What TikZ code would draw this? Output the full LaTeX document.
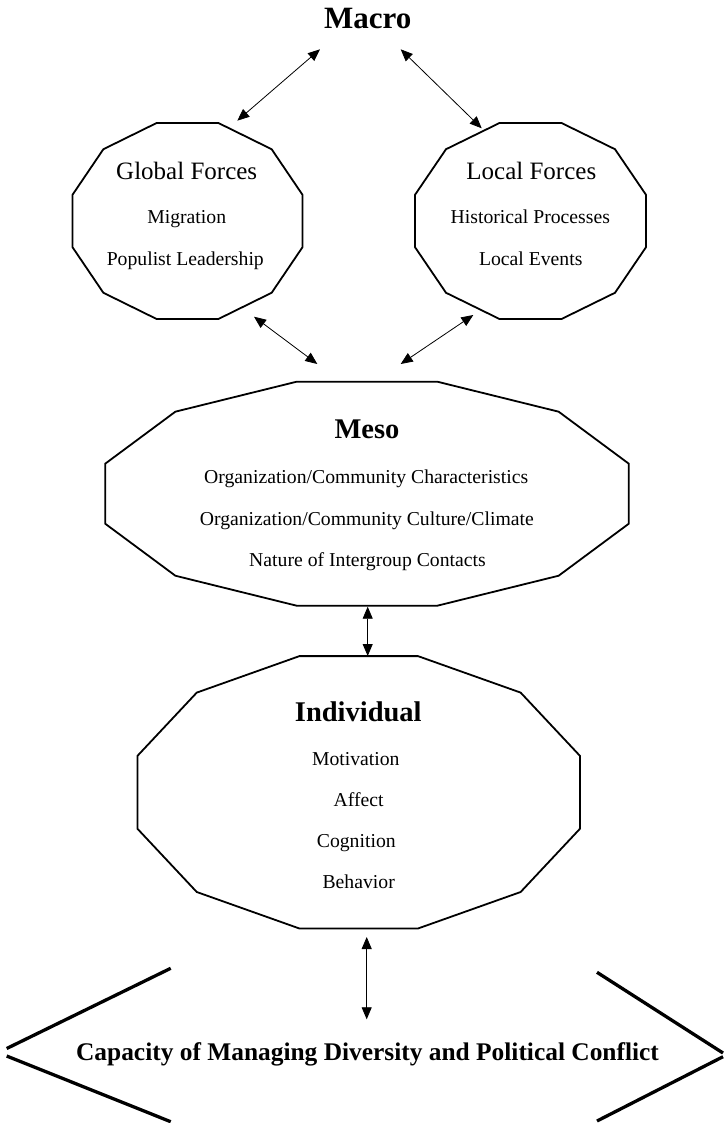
\documentclass[tikz,border=0pt]{standalone}
\usepackage{fontspec}
\setmainfont{Liberation Serif}
\usetikzlibrary{arrows.meta}
\tikzset{
  polyline/.style={line width=1.8pt, line join=miter},
  biarrow/.style={line width=0.8pt, {Triangle[length=12pt,width=10pt]}-{Triangle[length=12pt,width=10pt]}},
  bracketline/.style={line width=3.3pt},
  txt/.style={anchor=base, inner sep=0pt},
  bigtitle/.style={txt, font=\fontsize{31}{31}\selectfont\bfseries},
  leveltitle/.style={txt, font=\fontsize{28.5}{28.5}\selectfont\bfseries},
  forcetitle/.style={txt, font=\fontsize{25}{25}\selectfont},
  item/.style={txt, font=\fontsize{19.7}{19.7}\selectfont},
  captext/.style={txt, font=\fontsize{25.4}{25.4}\selectfont\bfseries}
}
\newcommand{\dodecagon}[3]{%
  \draw[polyline, shift={(#1)}] (15:#2 and #3)
    \foreach \a in {45,75,...,345}{ -- (\a:#2 and #3)} -- cycle;}
\begin{document}
\begin{tikzpicture}[x=1pt, y=-1pt]
\useasboundingbox (0,0) rectangle (723,1123);
% centres
\coordinate (gc) at (187.5,221);
\coordinate (lc) at (530.5,221);
\coordinate (mc) at (367,493.7);
\coordinate (ic) at (358.7,792.3);
% shapes
\dodecagon{gc}{119}{101.5}
\dodecagon{lc}{119.5}{101.5}
\dodecagon{mc}{271}{116}
\dodecagon{ic}{229}{141}
% texts
\node[bigtitle] (macro) at (367.8,28.3) {Macro};
\node[forcetitle] (globalt) at (186.7,180) {Global Forces};
\node[item] (migr) at (186.7,224) {Migration};
\node[item] (popul) at (185.3,265.7) {Populist Leadership};
\node[forcetitle] (localt) at (531.3,180) {Local Forces};
\node[item] (hist) at (530.3,224) {Historical Processes};
\node[item] (levents) at (530.7,265.7) {Local Events};
\node[leveltitle] (meso) at (367,438.3) {Meso};
\node[item] (orgchar) at (366.2,483.3) {Organization/Community Characteristics};
\node[item] (orgcult) at (366.8,525) {Organization/Community Culture/Climate};
\node[item] (nature) at (367.5,566) {Nature of Intergroup Contacts};
\node[leveltitle] (indiv) at (358.3,721.7) {Individual};
\node[item] (motiv) at (355.8,765.7) {Motivation};
\node[item] (affect) at (358.7,806.7) {Affect};
\node[item] (cogn) at (356.3,847.7) {Cognition};
\node[item] (behav) at (358.7,888.3) {Behavior};
\node[captext] (cap) at (367.5,1060) {Capacity of Managing Diversity and Political Conflict};
% arrow end points
\coordinate (a1) at (320,49.3);   \coordinate (a2) at (237.3,120.7);
\coordinate (a3) at (400.7,49.3); \coordinate (a4) at (481.7,128.3);
\coordinate (a5) at (254,316.7);  \coordinate (a6) at (317.3,364);
\coordinate (a7) at (473.3,315);  \coordinate (a8) at (400.7,364);
\coordinate (a9) at (367.7,606.7); \coordinate (a10) at (367.7,656);
\coordinate (a11) at (366.7,937);  \coordinate (a12) at (366.7,1019.3);
\draw[biarrow] (a1) -- (a2);
\draw[biarrow] (a3) -- (a4);
\draw[biarrow] (a5) -- (a6);
\draw[biarrow] (a7) -- (a8);
\draw[biarrow] (a9) -- (a10);
\draw[biarrow] (a11) -- (a12);
% brackets
\coordinate (lbu) at (170.7,968.3); \coordinate (lbt1) at (6.7,1048.5);
\coordinate (lbt2) at (6.7,1056);   \coordinate (lbl) at (170.7,1121.7);
\coordinate (rbu) at (597,972.3);   \coordinate (rbt1) at (723,1053);
\coordinate (rbt2) at (723,1056.7); \coordinate (rbl) at (597,1121);
\draw[bracketline] (lbu) -- (lbt1);
\draw[bracketline] (lbt2) -- (lbl);
\draw[bracketline] (rbu) -- (rbt1);
\draw[bracketline] (rbt2) -- (rbl);
\end{tikzpicture}
\end{document}
